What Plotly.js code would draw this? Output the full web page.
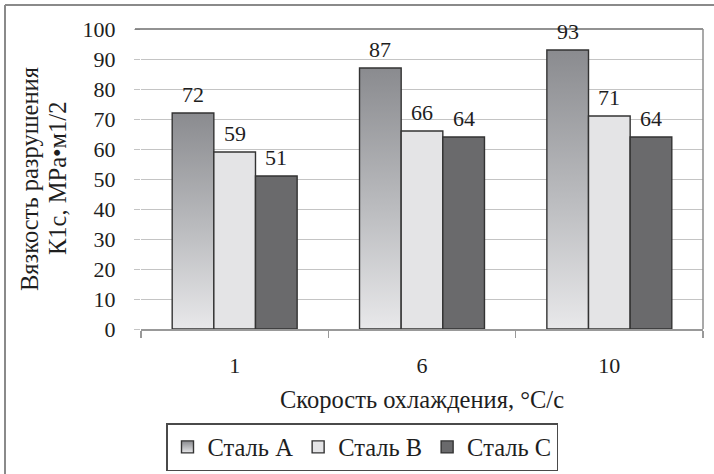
<!DOCTYPE html>
<html>
<head>
<meta charset="utf-8">
<script src="https://cdn.plot.ly/plotly-3.0.1.min.js"></script>
<style>html,body{margin:0;padding:0;background:#fff;}#chart{width:714px;height:474px;}</style>
</head>
<body>
<div id="chart"></div>
<script>
// ---- data ----
const categories = ["1", "6", "10"];
const seriesNames = ["Сталь A", "Сталь B", "Сталь C"];
const steelA = [72, 87, 93];
const steelB = [59, 66, 71];
const steelC = [51, 64, 64];
const yTickVals = [0, 10, 20, 30, 40, 50, 60, 70, 80, 90, 100];
const xTitle = "Скорость охлаждения, °С/с";
const yTitleLines = ["Вязкость разрушения", "К1с, МРа•м1/2"];

// ---- layout constants ----
const W = 714, H = 474;
const M = {l: 141, r: 11, t: 29, b: 145};
const pw = W - M.l - M.r, ph = H - M.t - M.b;
const px2x = p => (p - M.l) / pw;
const px2y = p => (H - M.b - p) / ph;
const FONT = "Liberation Serif, Times New Roman, serif";
const FS = 22;     // digits
const FS2 = 24.5;  // words
const TXT = "#1e1e1e";
const bargap = 0.333;
const barW = pw / categories.length * (1 - bargap) / 3;

const fills = ["#b4b5b8", "#e4e4e6", "#6a6a6c"];
const series = [steelA, steelB, steelC];

const traces = series.map((vals, i) => ({
  type: "bar",
  name: seriesNames[i],
  x: categories,
  y: vals,
  marker: {color: fills[i], line: {color: "#333333", width: 1.4}},
  hoverinfo: "none"
}));

const annotations = [];
series.forEach((vals, i) => {
  vals.forEach((v, j) => {
    annotations.push({
      x: j, y: v, xref: "x", yref: "y",
      text: String(v), showarrow: false,
      xanchor: "center", yanchor: "bottom",
      xshift: (i - 1) * barW, yshift: 4,
      font: {family: FONT, size: FS, color: TXT}
    });
  });
});
// y-axis title, two rotated lines
[29, 57].forEach((px, k) => {
  annotations.push({
    x: px2x(px), y: 0.5, xref: "paper", yref: "paper",
    text: yTitleLines[k], textangle: -90, showarrow: false,
    xanchor: "center", yanchor: "middle",
    font: {family: FONT, size: FS2, color: TXT}
  });
});

const shapes = [
  // outer frame (top and left visible)
  {type: "line", xref: "paper", yref: "paper", x0: px2x(5), y0: px2y(5), x1: px2x(W + 10), y1: px2y(5), line: {color: "#8a8a8a", width: 2}},
  {type: "line", xref: "paper", yref: "paper", x0: px2x(5), y0: px2y(5), x1: px2x(5), y1: px2y(H + 10), line: {color: "#8a8a8a", width: 2}},
  // plot area border top & right
  {type: "line", xref: "paper", yref: "paper", x0: px2x(135), y0: 1, x1: 1, y1: 1, line: {color: "#6e6e6e", width: 1.5}},
  {type: "line", xref: "paper", yref: "paper", x0: 1, y0: 1, x1: 1, y1: 0, line: {color: "#8c8c8c", width: 1.5}}
];

const layout = {
  width: W, height: H,
  margin: M,
  paper_bgcolor: "#ffffff", plot_bgcolor: "#ffffff",
  font: {family: FONT, size: FS, color: TXT},
  barmode: "group",
  bargap: bargap, bargroupgap: 0,
  showlegend: true,
  legend: {
    orientation: "h",
    xref: "container", yref: "container",
    x: 362 / W, xanchor: "center",
    y: (H - 423) / H, yanchor: "top",
    bordercolor: "#4a4a4a", borderwidth: 1.5,
    font: {family: FONT, size: FS2, color: TXT},
    itemwidth: 30, tracegroupgap: 0, traceorder: "normal"
  },
  xaxis: {
    type: "category", range: [-0.5, 2.5], autorange: false, automargin: false,
    showgrid: false, zeroline: false,
    showline: true, linecolor: "#999999", linewidth: 1.5,
    ticks: "outside", tickson: "boundaries", ticklen: 7, tickcolor: "#999999", tickwidth: 1.2,
    ticklabelstandoff: 16,
    tickfont: {family: FONT, size: FS, color: TXT},
    title: {text: xTitle, font: {family: FONT, size: FS2, color: TXT}, standoff: 14},
    fixedrange: true
  },
  yaxis: {
    range: [0, 100], autorange: false, automargin: false, tickvals: yTickVals,
    showgrid: true, gridcolor: "#c4c4c4", gridwidth: 1,
    zeroline: false, showline: false,
    ticks: "outside", ticklen: 6, tickcolor: "#c4c4c4", tickwidth: 1,
    ticklabelstandoff: 14,
    tickfont: {family: FONT, size: FS, color: TXT},
    fixedrange: true
  },
  annotations: annotations,
  shapes: shapes
};

Plotly.newPlot("chart", traces, layout, {staticPlot: true, displayModeBar: false}).then(gd => {
  // gradient fill for series A (top dark -> bottom light)
  const svg = gd.querySelector("svg.main-svg");
  const NS = "http://www.w3.org/2000/svg";
  let defs = svg.querySelector("defs");
  if (!defs) { defs = document.createElementNS(NS, "defs"); svg.insertBefore(defs, svg.firstChild); }
  const g = document.createElementNS(NS, "linearGradient");
  g.setAttribute("id", "gradA");
  g.setAttribute("x1", "0"); g.setAttribute("y1", "0");
  g.setAttribute("x2", "0"); g.setAttribute("y2", "1");
  [["0%", "#8a8b8f"], ["55%", "#bcbdc0"], ["100%", "#e8e8ea"]].forEach(([o, c]) => {
    const s = document.createElementNS(NS, "stop");
    s.setAttribute("offset", o); s.setAttribute("stop-color", c);
    g.appendChild(s);
  });
  defs.appendChild(g);
  const barTraces = gd.querySelectorAll(".barlayer .trace.bars");
  if (barTraces[0]) barTraces[0].querySelectorAll("path").forEach(p => { p.style.fill = "url(#gradA)"; });
  const legPts = gd.querySelectorAll(".legend .traces");
  if (legPts[0]) legPts[0].querySelectorAll(".legendpoints path").forEach(p => { p.style.fill = "url(#gradA)"; });
});
</script>
</body>
</html>
